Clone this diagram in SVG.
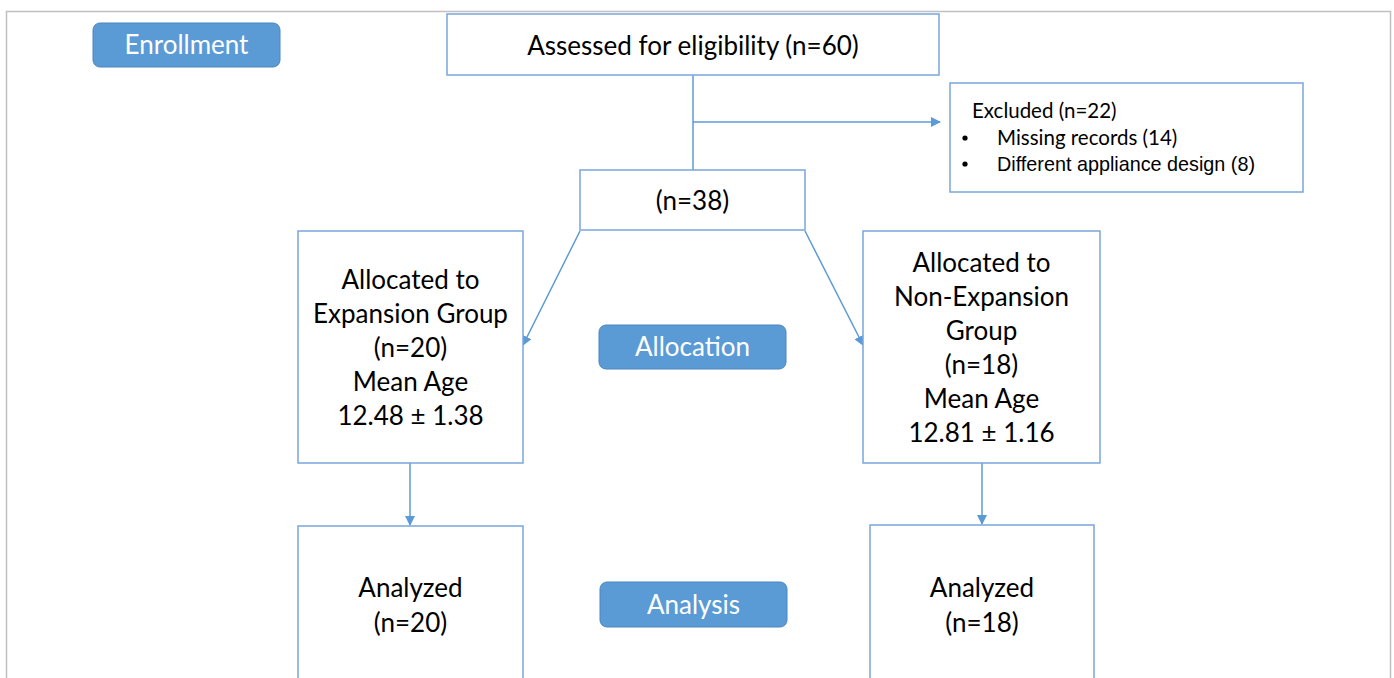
<svg xmlns="http://www.w3.org/2000/svg" width="1394" height="678" viewBox="0 0 1394 678">
<style>
.box{fill:#fff;stroke:#7aa6dc;stroke-width:1.5}
.pill{fill:#5b9bd5;stroke:#4a86c0;stroke-width:1}
.t{font-family:Lato,"Open Sans",sans-serif;font-size:26px;fill:#000;text-anchor:middle}
.pt{font-family:Lato,"Open Sans",sans-serif;font-size:26px;fill:#fff;text-anchor:middle}
.s{font-family:Lato,"Open Sans",sans-serif;font-size:20.5px;fill:#000}
.a{font-family:"Liberation Sans",Arial,sans-serif;font-size:19.8px;fill:#000}
.c{fill:none;stroke:#5b9bd5;stroke-width:1.5}
</style>
<defs>
<marker id="ar" markerWidth="10" markerHeight="10" refX="9" refY="5" orient="auto" markerUnits="userSpaceOnUse">
<path d="M0,0 L10,5 L0,10 z" fill="#5b9bd5"/>
</marker>
</defs>
<rect width="1394" height="678" fill="#fff"/>
<path d="M6.5,678 V11.5 H1390.5 V678" fill="none" stroke="#c0c0c0" stroke-width="1.5"/>
<g id="connectors">
<path class="c" d="M693,75 V170"/>
<path class="c" d="M693,122 H940" marker-end="url(#ar)"/>
<path class="c" d="M580,231 L523,345" marker-end="url(#ar)"/>
<path class="c" d="M805,231 L863,345" marker-end="url(#ar)"/>
<path class="c" d="M410,463 V525" marker-end="url(#ar)"/>
<path class="c" d="M982,463 V524" marker-end="url(#ar)"/>
</g>
<g id="enrollment"><rect class="pill" x="93" y="23" width="187" height="44" rx="7"/><text class="pt" x="186.5" y="54">Enrollment</text></g>
<g id="assessed"><rect class="box" x="447" y="14" width="492" height="61"/><text class="t" x="693" y="55">Assessed for eligibility (n=60)</text></g>
<g id="excluded"><rect class="box" x="950" y="83" width="353" height="109"/>
<text class="s" x="972" y="118">Excluded (n=22)</text>
<circle cx="965" cy="138" r="2.6" fill="#000"/><circle cx="965" cy="164" r="2.6" fill="#000"/>
<text class="s" x="997" y="145">Missing records (14)</text>
<text class="a" x="997" y="171">Different appliance design (8)</text></g>
<g id="n38"><rect class="box" x="580" y="170" width="225" height="60"/><text class="t" x="692.5" y="210">(n=38)</text></g>
<g id="allocLeft"><rect class="box" x="298" y="231" width="225" height="232"/>
<text class="t" x="410.5" y="289">Allocated to</text>
<text class="t" x="410.5" y="323">Expansion Group</text>
<text class="t" x="410.5" y="357">(n=20)</text>
<text class="t" x="410.5" y="391">Mean Age</text>
<text class="t" x="410.5" y="425">12.48 ± 1.38</text></g>
<g id="allocation"><rect class="pill" x="599" y="325" width="187" height="44" rx="7"/><text class="pt" x="692.5" y="356">Allocation</text></g>
<g id="allocRight"><rect class="box" x="863" y="231" width="237" height="232"/>
<text class="t" x="981.5" y="272">Allocated to</text>
<text class="t" x="981.5" y="306">Non-Expansion</text>
<text class="t" x="981.5" y="340">Group</text>
<text class="t" x="981.5" y="374">(n=18)</text>
<text class="t" x="981.5" y="408">Mean Age</text>
<text class="t" x="981.5" y="442">12.81 ± 1.16</text></g>
<g id="analyzedLeft"><rect class="box" x="298" y="526" width="225" height="170"/>
<text class="t" x="410.5" y="597">Analyzed</text><text class="t" x="410.5" y="632">(n=20)</text></g>
<g id="analysis"><rect class="pill" x="600" y="582" width="187" height="45" rx="7"/><text class="pt" x="693.5" y="614">Analysis</text></g>
<g id="analyzedRight"><rect class="box" x="870" y="525" width="224" height="170"/>
<text class="t" x="982" y="597">Analyzed</text><text class="t" x="982" y="632">(n=18)</text></g>
</svg>
